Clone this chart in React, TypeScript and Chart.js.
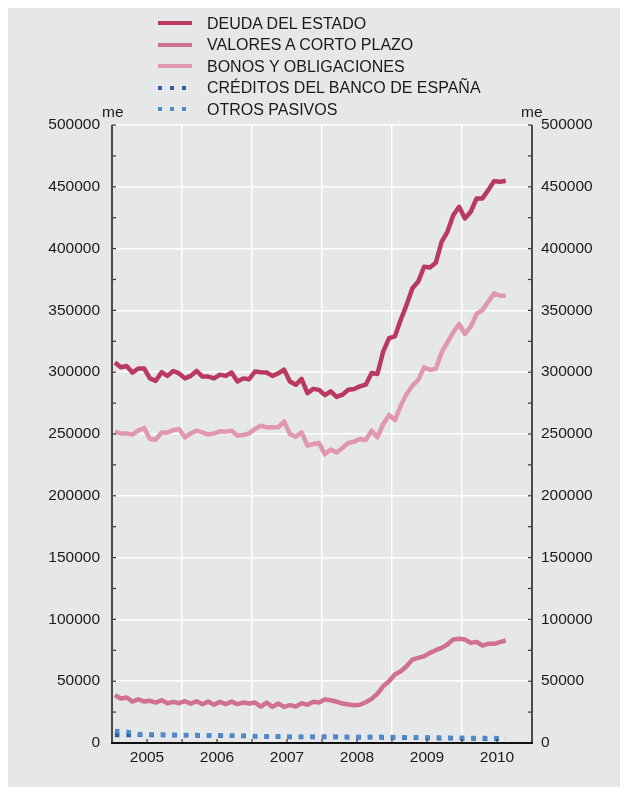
import React, { useEffect, useRef } from 'react';
import { Chart, registerables } from 'chart.js';

Chart.register(...registerables);

// Monthly categories, Jan 2005 .. Aug 2010
const months: string[] = Array.from({ length: 68 }, (_, i) =>
  `${2005 + Math.floor(i / 12)}-${String((i % 12) + 1).padStart(2, '0')}`
);

const seriesLabels = [
  'DEUDA DEL ESTADO',
  'VALORES A CORTO PLAZO',
  'BONOS Y OBLIGACIONES',
  'CRÉDITOS DEL BANCO DE ESPAÑA',
  'OTROS PASIVOS',
];

const deuda = [
  307800, 304000, 305000, 299700, 303000, 303000, 295000, 293000, 300000, 297000,
  301000, 299000, 295000, 297000, 301000, 296500, 296500, 295000, 298000, 297000,
  299700, 292500, 295000, 294300, 300500, 300000, 299700, 297000, 299000, 302000,
  292500, 289800, 294600, 283000, 286500, 285700, 281500, 284500, 280000, 281800,
  285800, 286400, 288500, 289900, 299300, 298500, 316800, 327600, 329000, 342400,
  354500, 368000, 373300, 385300, 384700, 388500, 405500, 413600, 427000, 433800,
  424400, 429800, 440600, 440600, 447300, 454600, 454000, 454900,
];

const valores = [
  38700, 36000, 36800, 33500, 35400, 33500, 34100, 32700, 34600, 32200,
  33300, 32200, 33800, 31900, 33800, 31400, 33500, 30900, 33300, 31400,
  33500, 31400, 32700, 31900, 32700, 29500, 32700, 29200, 31900, 29200,
  30600, 29500, 32200, 30900, 33300, 32700, 35300, 34600, 33400, 31900,
  31100, 30600, 30900, 33000, 35700, 39800, 46000, 50000, 55400, 58100,
  62100, 67500, 68900, 70200, 72900, 75100, 77000, 79700, 83700, 84300,
  83700, 81000, 81800, 78900, 80200, 80200, 81600, 82900,
];

const bonos = [
  251900, 250500, 250500, 249500, 252700, 254900, 246000, 245400, 251300, 251300,
  253200, 254000, 247300, 250500, 252700, 251300, 249500, 250500, 252200, 251900,
  252700, 248700, 249200, 250500, 254000, 256700, 255400, 255400, 255400, 260200,
  250000, 247800, 251300, 240600, 241900, 242700, 233500, 237500, 235000, 238700,
  242700, 243800, 246000, 245100, 252700, 247300, 258100, 265400, 261300, 272900,
  282400, 289100, 293700, 303900, 302000, 302600, 316000, 324200, 332300, 339000,
  330900, 336800, 347100, 350300, 357100, 363800, 361900, 361900,
];

const creditos = [
  6500, 6400, 6400, 6500, 6600, 6600, 6500, 6500, 6400, 6400,
  6300, 6300, 6200, 6200, 6100, 6100, 6000, 6000, 5900, 5900,
  5800, 5800, 5700, 5600, 5400, 5300, 5200, 5100, 5100, 5000,
  4900, 4900, 4800, 4800, 4800, 4900, 4900, 4900, 4800, 4700,
  4700, 4700, 4600, 4600, 4600, 4600, 4500, 4400, 4400, 4300,
  4300, 4200, 4200, 4100, 4000, 3900, 3900, 3800, 3800, 3700,
  3700, 3600, 3600, 3500, 3500, 3500, 3400, 3400,
];

const otros = [
  9800, 9500, 9200, 8000, 7200, 7000, 6900, 6800, 6800, 6700,
  6600, 6600, 6500, 6400, 6400, 6300, 6300, 6200, 6200, 6100,
  6000, 6000, 5900, 5800, 5600, 5500, 5400, 5300, 5300, 5200,
  5100, 5100, 5000, 5000, 5000, 5100, 5200, 5200, 5100, 5000,
  5000, 5000, 4900, 4900, 5000, 5000, 4900, 4800, 4800, 4700,
  4700, 4600, 4600, 4500, 4500, 4400, 4400, 4300, 4300, 4200,
  4200, 4100, 4100, 4000, 4000, 4000, 3900, 3900,
];

const yMin = 0;
const yMax = 500000;
const yStep = 25000;
const yLabelStep = 50000;
const xMin = 2005;
const xMax = 2011;
const unitLabel = 'me';

const colors = ['#b9395f', '#d0718f', '#e098ae', '#2a5eac', '#4f8bcb'];
const dashed = [false, false, false, true, true];

const FONT = '"Liberation Sans", Arial, Helvetica, sans-serif';
const W = 616;
const H = 779;

function monthToX(m: string): number {
  const [y, mo] = m.split('-').map(Number);
  return y + (mo - 0.5) / 12;
}

const frame = {
  id: 'frame',
  afterDraw(chart: any) {
    const { ctx, chartArea: a, scales } = chart;
    const ys = scales.y;
    const xs = scales.x;
    ctx.save();
    const seg = (x1: number, y1: number, x2: number, y2: number) => {
      ctx.beginPath();
      ctx.moveTo(x1, y1);
      ctx.lineTo(x2, y2);
      ctx.stroke();
    };
    ctx.strokeStyle = '#333';
    ctx.lineWidth = 1.2;
    ys.ticks.forEach((t: any) => {
      const p = ys.getPixelForValue(t.value);
      seg(a.left, p, a.left + 4, p);
      seg(a.right - 4, p, a.right, p);
    });
    xs.ticks.forEach((t: any) => {
      const p = xs.getPixelForValue(t.value);
      seg(p, a.bottom, p, a.bottom - 4);
    });
    ctx.strokeStyle = '#4a4a4a';
    ctx.lineWidth = 2;
    seg(a.left, a.top, a.left, a.bottom);
    seg(a.right, a.top, a.right, a.bottom);
    ctx.strokeStyle = '#111';
    ctx.lineWidth = 2.2;
    seg(a.left - 1, a.bottom, a.right + 1, a.bottom);
    ctx.restore();
  },
};

const seriesData = [deuda, valores, bonos, creditos, otros];

export default function App() {
  const ref = useRef<HTMLCanvasElement>(null);

  useEffect(() => {
    if (!ref.current) return;
    const datasets = seriesLabels.map((label, k) => ({
      label,
      data: months.map((m, i) => ({ x: monthToX(m), y: seriesData[k][i] })),
      borderColor: colors[k],
      backgroundColor: colors[k],
      borderWidth: 4.5,
      borderDash: dashed[k] ? [4.5, 7] : [],
      borderCapStyle: 'butt' as const,
      borderJoinStyle: 'round' as const,
      pointRadius: 0,
      tension: 0,
      fill: false,
      order: k === 3 ? 2 : k === 4 ? 1 : 0,
    }));

    const tickFont = { family: FONT, size: 15.5 };
    const gridY = (c: any) =>
      c.tick && Math.abs(c.tick.value % yLabelStep) < 1 ? '#ffffff' : 'rgba(0,0,0,0)';
    const yLabel = (v: any) => (Math.abs(Number(v) % yLabelStep) < 1 ? String(v) : '');

    const chart = new Chart(ref.current, {
      type: 'line',
      data: { datasets },
      plugins: [frame],
      options: {
        animation: false,
        responsive: false,
        devicePixelRatio: 1,
        layout: { padding: { top: 117, left: 0, right: 0, bottom: 0 } },
        plugins: { legend: { display: false }, tooltip: { enabled: false } },
        scales: {
          x: {
            type: 'linear',
            min: xMin,
            max: xMax,
            border: { display: false },
            grid: {
              color: (c: any) => (c.tick && Number.isInteger(c.tick.value) ? '#ffffff' : 'rgba(0,0,0,0)'),
              lineWidth: 1.5,
              drawTicks: false,
            },
            ticks: {
              stepSize: 0.5,
              autoSkip: false,
              maxRotation: 0,
              padding: 5,
              color: '#1a1a1a',
              font: tickFont,
              callback: (v: any) => (Number.isInteger(Number(v)) ? '' : String(Math.floor(Number(v)))),
            },
            afterFit: (s: any) => {
              s.height = H - 735;
            },
          },
          y: {
            type: 'linear',
            position: 'left',
            min: yMin,
            max: yMax,
            border: { display: false },
            grid: { color: gridY, lineWidth: 1.5, drawTicks: false },
            ticks: {
              stepSize: yStep,
              autoSkip: false,
              maxTicksLimit: 1000,
              padding: 12,
              color: '#1a1a1a',
              font: tickFont,
              callback: yLabel,
            },
            afterFit: (s: any) => {
              s.width = 105;
            },
          },
          y2: {
            type: 'linear',
            position: 'right',
            min: yMin,
            max: yMax,
            border: { display: false },
            grid: { display: false, drawTicks: false },
            ticks: {
              stepSize: yStep,
              autoSkip: false,
              maxTicksLimit: 1000,
              padding: 9,
              color: '#1a1a1a',
              font: tickFont,
              callback: yLabel,
            },
            afterFit: (s: any) => {
              s.width = W - 525;
            },
          },
        },
      },
    } as any);
    return () => chart.destroy();
  }, []);

  const textStyle: React.CSSProperties = {
    fontFamily: FONT,
    fontSize: 15.5,
    color: '#1a1a1a',
    whiteSpace: 'nowrap',
  };

  return (
    <div
      style={{
        position: 'relative',
        width: W,
        height: H,
        marginLeft: -1,
        background: '#e6e7e8',
      }}
    >
      <canvas ref={ref} width={W} height={H} style={{ position: 'absolute', left: 0, top: 0, width: W, height: H }} />
      <div style={{ position: 'absolute', left: 151, top: 4.6 }}>
        {seriesLabels.map((label, k) => (
          <div key={label} style={{ position: 'relative', height: 21.5, lineHeight: '21.5px' }}>
            <div
              style={{
                position: 'absolute',
                left: 0,
                top: 8.75,
                width: dashed[k] ? 28 : 34,
                height: 4,
                background: dashed[k]
                  ? `repeating-linear-gradient(to right, ${colors[k]} 0px, ${colors[k]} 4px, transparent 4px, transparent 12px)`
                  : colors[k],
              }}
            />
            <span style={{ ...textStyle, position: 'absolute', left: 49, top: 0, fontSize: 16 }}>{label}</span>
          </div>
        ))}
      </div>
      <span style={{ ...textStyle, position: 'absolute', left: 95, top: 96.4, lineHeight: '15.5px' }}>{unitLabel}</span>
      <span style={{ ...textStyle, position: 'absolute', left: 514, top: 96.4, lineHeight: '15.5px' }}>{unitLabel}</span>
    </div>
  );
}
